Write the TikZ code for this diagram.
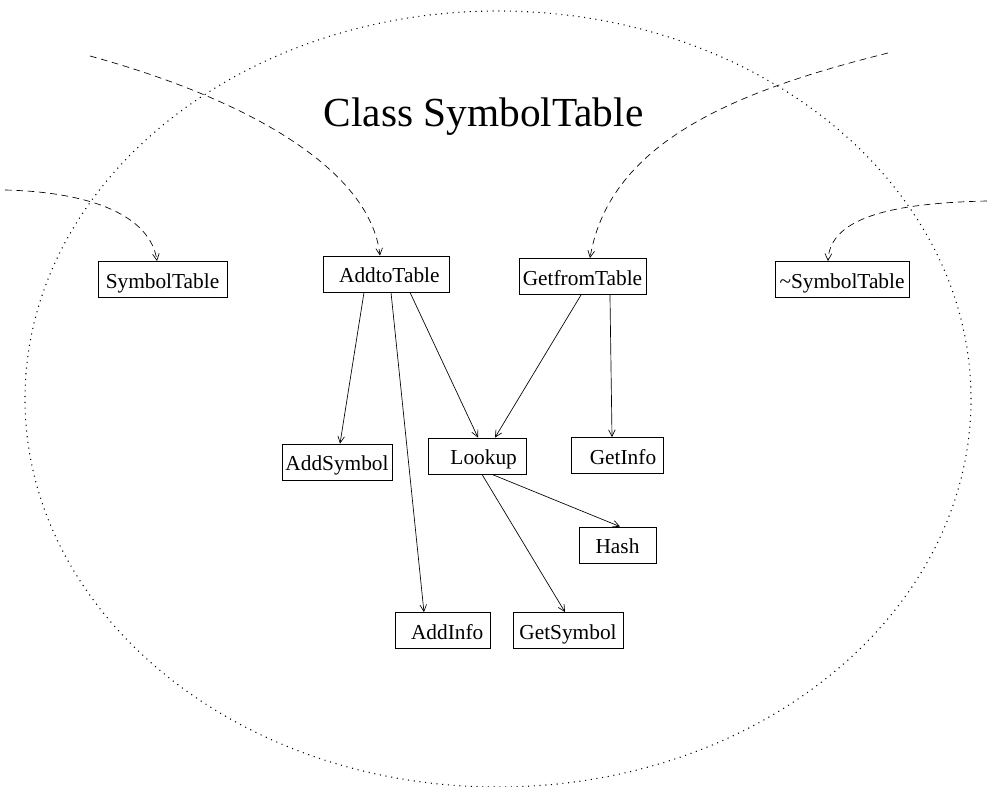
\documentclass[tikz,border=0pt]{standalone}
\usepackage{fontspec}
\setmainfont{Liberation Serif}
\usetikzlibrary{arrows.meta}
\begin{document}
\begin{tikzpicture}[x=0.75pt,y=-0.75pt,
  box/.style={draw,line width=0.6pt,inner sep=0pt,font=\fontsize{16}{19}\selectfont,minimum height=27pt,text height=14pt,text depth=1pt},
  call/.style={line width=0.5pt,-{Straight Barb[length=5pt,width=5pt]}},
  ext/.style={call,dash pattern=on 5pt off 3.5pt},
  scopeline/.style={line width=0.8pt,dash pattern=on 0.8pt off 3.5pt}]
\useasboundingbox (0,0) rectangle (987,787);
% class scope
\draw[scopeline] (498,399) ellipse [x radius=354.75pt, y radius=291pt];
\node[font=\fontsize{31}{37}\selectfont,anchor=base] (title) at (483.5,127) {Class SymbolTable};
% boxes
\node[box,minimum width=96.75pt] (st)  at (162.5,279.5) {SymbolTable};
\node[box,minimum width=94.5pt]  (at)  at (386,274) {\hspace*{5pt}AddtoTable};
\node[box,minimum width=95.25pt] (gt)  at (582.5,276.5) {GetfromTable};
\node[box,minimum width=100.5pt] (nst) at (842,279.5) {\textasciitilde SymbolTable};
\node[box,minimum width=82.5pt]  (as)  at (337,462) {AddSymbol};
\node[box,minimum width=73.5pt]  (lk)  at (477,456) {\hspace*{10pt}Lookup};
\node[box,minimum width=69pt]    (gi)  at (617,455.5) {\hspace*{9pt}GetInfo};
\node[box,minimum width=57.75pt] (hs)  at (617.5,545) {Hash};
\node[box,minimum width=71.25pt] (ai)  at (442.5,630.5) {\hspace*{7pt}AddInfo};
\node[box,minimum width=82.5pt]  (gs)  at (568,630.5) {GetSymbol};
% free ends of the external calls
\coordinate (e1) at (5,190);
\coordinate (e2) at (90,56);
\coordinate (e3) at (888,53);
\coordinate (e4) at (987,201);
% external (dashed) calls
\draw[ext] (e1) .. controls (90,192) and (150,215) .. ([xshift=-4.1pt]st.north);
\draw[ext] (e2) .. controls (250,100) and (370,170) .. ([xshift=-4.5pt]at.north);
\draw[ext] (e3) .. controls (740,90) and (610,140) .. ([xshift=5.6pt]gt.north);
\draw[ext] (e4) .. controls (900,203) and (830,215) .. ([xshift=-10.5pt]nst.north);
% internal calls
\draw[call] ([xshift=-16.5pt]at.south) -- ([xshift=2.25pt]as.north);
\draw[call] ([xshift=3.75pt]at.south) -- ([xshift=-13.9pt]ai.north);
\draw[call] ([xshift=18pt]at.south) -- ([xshift=0.75pt]lk.north);
\draw[call] ([xshift=-1.1pt]gt.south) -- ([xshift=13.5pt]lk.north);
\draw[call] ([xshift=20.6pt]gt.south) -- ([xshift=-3.75pt]gi.north);
\draw[call] ([xshift=11.25pt]lk.south) -- ([xshift=1.9pt]hs.north);
\draw[call] ([xshift=3.75pt]lk.south) -- ([xshift=-2.25pt]gs.north);
\end{tikzpicture}
\end{document}
